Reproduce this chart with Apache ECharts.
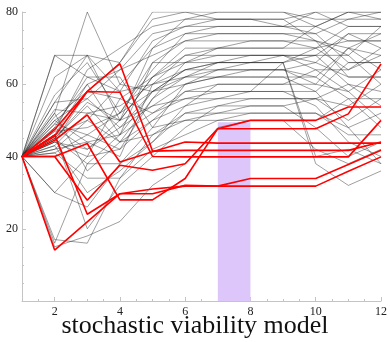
<!DOCTYPE html>
<html>
<head>
<meta charset="utf-8">
<script src="https://cdn.jsdelivr.net/npm/echarts@6/dist/echarts.min.js"></script>
<style>
html,body{margin:0;padding:0;background:#fff;}
#chart{width:390px;height:342px;}
</style>
</head>
<body>
<div id="chart"></div>
<script>
// ---------------- data ----------------
const steps = [1, 2, 3, 4, 5, 6, 7, 8, 9, 10, 11, 12];
const xTickLabels = [2, 4, 6, 8, 10, 12];
const yTickLabels = [20, 40, 60, 80];
const chartTitle = 'stochastic viability model';
const band = { from: 7, to: 8, low: 0, high: 49.5 };

// red trajectories (viable)
const red1 = [40, 40, 43.6, 28, 28, 33.9, 47.7, 50, 50, 50, 53.7, 53.7];
const red2 = [40, 40, 27.9, 37.6, 36.2, 38, 47.7, 47.7, 47.7, 47.7, 51.8, 65.6];
const red3 = [40, 44.5, 51.5, 38.5, 41.3, 44, 43.7, 43.7, 43.7, 43.7, 43.7, 43.7];
const red4 = [40, 47.5, 58, 65.7, 41.5, 41.7, 41.7, 41.7, 41.7, 41.7, 41.7, 44];
const red5 = [40, 45.6, 58, 57.8, 40, 39.9, 39.9, 39.9, 39.9, 39.9, 39.9, 50];
const red6 = [40, 14.1, 21.9, 29.7, 31, 31.8, 31.8, 33.9, 33.9, 33.9, 37.8, 41.7];
const red7 = [40, 46, 24, 29.7, 29.7, 32, 31.8, 31.8, 31.8, 31.8, 35.9, 39.9];
const redLines = [red1, red2, red3, red4, red5, red6, red7];

// black trajectories
const blk1 = [40, 68, 68, 66, 80, 80, 78, 78, 76, 76, 80, 80];
const blk2 = [40, 52, 80, 60, 58, 62, 66, 66, 66, 70, 72, 72];
const blk3 = [40, 68, 62, 58, 72, 76, 76, 76, 76, 74, 66, 66];
const blk4 = [40, 55, 68, 50, 62, 70, 70, 72, 72, 72, 62, 62];
const blk5 = [40, 48, 62, 62, 48, 60, 64, 64, 64, 60, 58, 64];
const blk6 = [40, 46, 60, 46, 66, 66, 68, 68, 68, 68, 74, 74];
const blk7 = [40, 44, 58, 56, 52, 58, 60, 60, 60, 64, 64, 70];
const blk8 = [40, 50, 56, 48, 54, 56, 56, 56, 56, 56, 50, 56];
const blk9 = [40, 45, 54, 44, 46, 52, 54, 54, 54, 56, 60, 58];
const blk10 = [40, 43, 52, 54, 60, 64, 66, 66, 68, 68, 68, 76];
const blk11 = [40, 42, 50, 60, 70, 78, 80, 80, 80, 76, 80, 80];
const blk12 = [40, 47, 48, 52, 64, 74, 74, 74, 74, 74, 78, 78];
const blk13 = [40, 41, 46, 42, 56, 62, 62, 62, 62, 62, 70, 64];
const blk14 = [40, 30, 40, 42, 50, 58, 58, 58, 58, 54, 44, 40];
const blk15 = [40, 16, 38, 38, 44, 52, 52, 52, 52, 52, 48, 52];
const blk16 = [40, 15, 18, 22, 32, 38, 48, 50, 50, 50, 56, 56];
const blk17 = [40, 17, 16, 34, 42, 46, 50, 50, 50, 42, 38, 42];
const blk18 = [40, 30, 26, 38, 48, 50, 50, 52, 52, 52, 46, 46];
const blk19 = [40, 46, 20, 32, 40, 48, 54, 56, 56, 56, 54, 60];
const blk20 = [40, 52, 36, 44, 56, 66, 70, 70, 70, 70, 64, 68];
const blk21 = [40, 55, 56, 64, 68, 72, 72, 72, 72, 70, 76, 76];
const blk22 = [40, 50, 44, 40, 60, 68, 68, 68, 68, 64, 58, 50];
const blk23 = [40, 48, 42, 50, 70, 74, 76, 76, 76, 80, 80, 78];
const blk24 = [40, 44, 40, 56, 62, 68, 70, 70, 70, 76, 72, 72];
const blk25 = [40, 45, 38, 46, 58, 60, 62, 64, 64, 66, 62, 62];
const blk26 = [40, 43, 30, 36, 44, 54, 60, 60, 60, 60, 70, 68];
const blk27 = [40, 41, 34, 34, 46, 50, 52, 54, 54, 48, 40, 44];
const blk28 = [40, 42, 44, 46, 52, 56, 58, 58, 58, 58, 66, 66];
const blk29 = [40, 49, 46, 52, 66, 72, 74, 74, 74, 72, 70, 74];
const blk30 = [40, 51, 58, 66, 78, 80, 80, 80, 80, 78, 78, 80];
const blk31 = [40, 47, 64, 70, 76, 78, 78, 78, 78, 80, 76, 76];
const blk32 = [40, 53, 52, 50, 54, 60, 62, 62, 62, 58, 48, 38];
const blk33 = [40, 46, 50, 44, 50, 54, 56, 58, 66, 38, 32, 36];
const blk34 = [40, 44, 42, 48, 58, 64, 64, 64, 64, 62, 56, 48];
const blk35 = [40, 62, 68, 58, 60, 62, 64, 66, 66, 68, 60, 54];
const blk36 = [40, 57, 66, 52, 58, 64, 66, 68, 68, 66, 74, 70];
const blk37 = [40, 45, 55, 50, 62, 66, 66, 66, 66, 40, 42, 38];
const blk38 = [40, 49, 60, 64, 74, 76, 78, 78, 78, 72, 68, 60];
const blackLines = [blk1, blk2, blk3, blk4, blk5, blk6, blk7, blk8, blk9, blk10,
  blk11, blk12, blk13, blk14, blk15, blk16, blk17, blk18, blk19, blk20,
  blk21, blk22, blk23, blk24, blk25, blk26, blk27, blk28, blk29, blk30,
  blk31, blk32, blk33, blk34, blk35, blk36, blk37, blk38];

// ---------------- chart ----------------
const xMinorTicks = [];
for (let v = 1.5; v < 12; v += 0.5) { if (xTickLabels.indexOf(v) < 0) xMinorTicks.push(v); }
const yMinorTicks = [];
for (let v = 5; v <= 80; v += 5) { if (yTickLabels.indexOf(v) < 0) yMinorTicks.push(v); }

const pts = arr => arr.map((y, i) => [steps[i], y]);
const serifFont = "'Liberation Serif', 'DejaVu Serif', serif";
const axisGray = '#c4c4c4';

const series = [];
series.push({
  type: 'line', data: [], symbol: 'none', silent: true, z: 1,
  markArea: {
    silent: true,
    itemStyle: { color: '#dcc6fa', opacity: 1 },
    data: [[{ xAxis: band.from, yAxis: band.low }, { xAxis: band.to, yAxis: band.high }]]
  }
});
blackLines.forEach(l => series.push({
  type: 'line', data: pts(l), symbol: 'none', silent: true, z: 2,
  lineStyle: { color: 'rgba(30,30,30,0.72)', width: 0.6 }
}));
redLines.forEach(l => series.push({
  type: 'line', data: pts(l), symbol: 'none', silent: true, z: 3,
  lineStyle: { color: '#ff0000', width: 1.6 }
}));

const chart = echarts.init(document.getElementById('chart'), null, { renderer: 'canvas' });
chart.setOption({
  animation: false,
  backgroundColor: '#ffffff',
  title: {
    text: chartTitle, left: 'center', top: 308,
    textStyle: { fontFamily: serifFont, fontSize: 26, fontWeight: 'normal', color: '#111' }
  },
  grid: { left: 22, right: 4, top: 12, bottom: 41 },
  xAxis: [{
    type: 'value', min: 1, max: 12,
    axisLine: { show: true, lineStyle: { color: axisGray, width: 1 } },
    axisTick: { show: true, inside: true, length: 4, customValues: xTickLabels, lineStyle: { color: axisGray } },
    axisLabel: { customValues: xTickLabels, fontFamily: serifFont, fontSize: 12, color: '#222', margin: 5 },
    splitLine: { show: false }
  }, {
    type: 'value', min: 1, max: 12, position: 'bottom',
    axisLine: { show: false },
    axisTick: { show: true, inside: true, length: 2, customValues: xMinorTicks, lineStyle: { color: axisGray } },
    axisLabel: { show: false },
    splitLine: { show: false }
  }],
  yAxis: [{
    type: 'value', min: 0, max: 80,
    axisLine: { show: true, lineStyle: { color: axisGray, width: 1 } },
    axisTick: { show: true, inside: true, length: 4, customValues: yTickLabels, lineStyle: { color: axisGray } },
    axisLabel: { customValues: yTickLabels, fontFamily: serifFont, fontSize: 12, color: '#222', margin: 4 },
    splitLine: { show: false }
  }, {
    type: 'value', min: 0, max: 80, position: 'left',
    axisLine: { show: false },
    axisTick: { show: true, inside: true, length: 2, customValues: yMinorTicks, lineStyle: { color: axisGray } },
    axisLabel: { show: false },
    splitLine: { show: false }
  }],
  series: series
});
</script>
</body>
</html>
